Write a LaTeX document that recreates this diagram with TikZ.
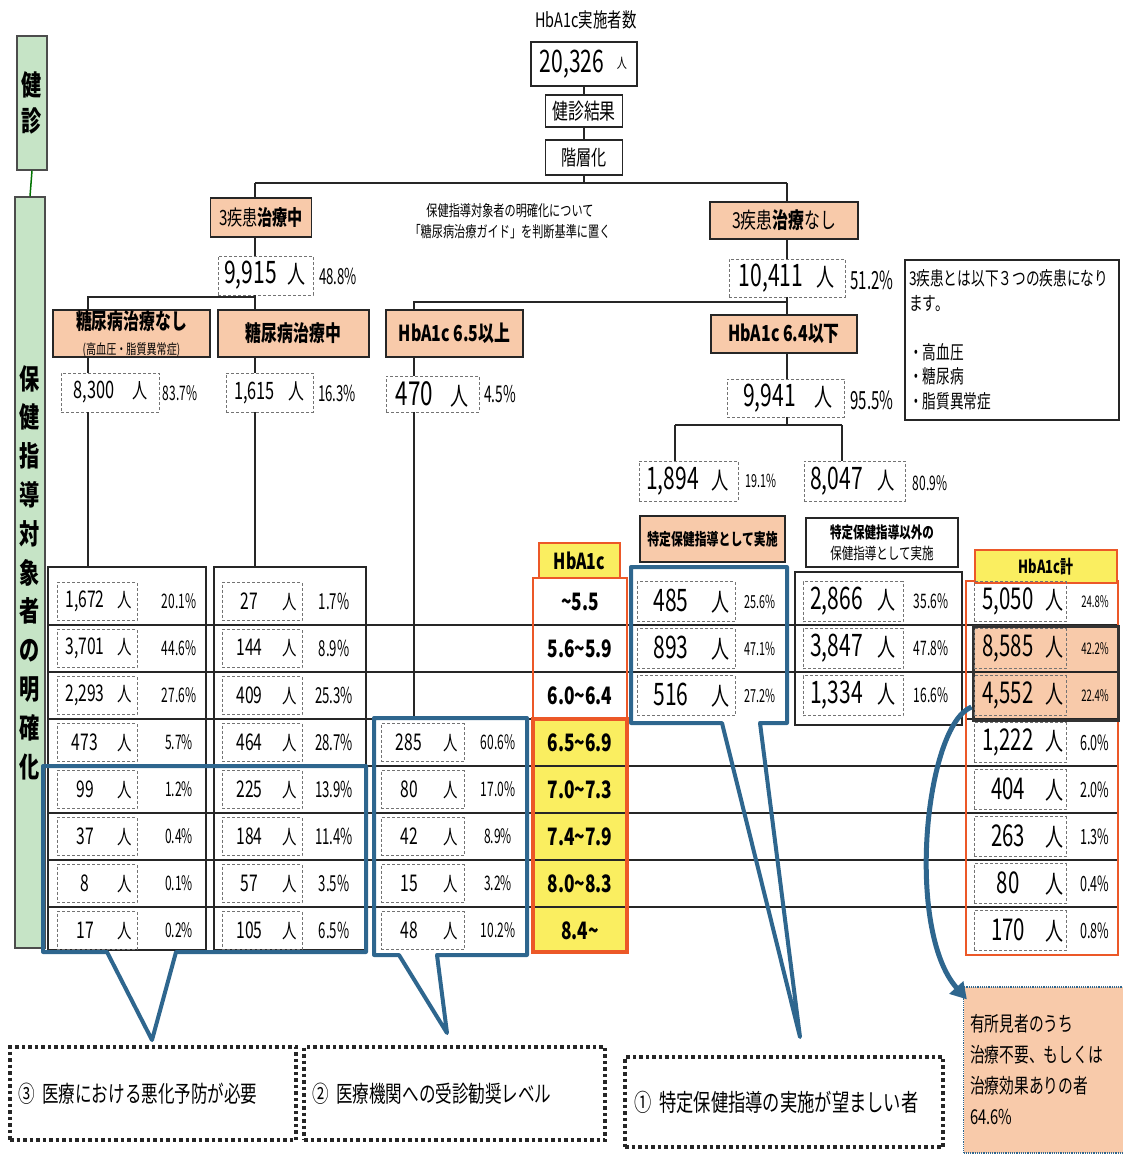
\documentclass[tikz,border=0pt]{standalone}
\usepackage{fontspec}
\setmainfont{Noto Sans CJK JP}[FakeStretch=0.72]
\newfontfamily\nf{Noto Sans CJK JP}[FakeStretch=0.68]
\newfontfamily\pf{Noto Sans CJK JP}[FakeStretch=0.6]
\usetikzlibrary{arrows.meta,positioning,calc}
\definecolor{peach}{RGB}{248,202,170}
\definecolor{hblue}{RGB}{46,102,142}
\definecolor{hyel}{RGB}{250,238,96}
\definecolor{hred}{RGB}{236,88,40}
\definecolor{hgreen}{RGB}{198,228,198}
\newcommand\fz[2]{\fontsize{#1}{#2}\selectfont}
\newcommand\ppl[5]{\makebox[#1]{\nf\fz{#3}{#3}#5}\makebox[#2]{\fz{#4}{#4}人}}

\begin{document}
\begin{tikzpicture}[x=1pt,y=-1pt,
 tl/.style={line width=2.6pt,black!85},
 tn/.style={line width=1.3pt,black!85},
 ob/.style={draw=black!85,line width=1.4pt,fill=peach,inner sep=0pt},
 wb/.style={draw=black!85,line width=1.4pt,fill=white,inner sep=0pt},
 db/.style={draw=black!55,densely dashed,line width=0.8pt,inner sep=0pt,minimum height=38pt},
 pc/.style={inner sep=0pt,font=\pf\fz{20}{22}},
 tb/.style={draw=black!85,line width=2pt,inner sep=0pt},
 bf/.style={draw=hblue,line width=4pt,line join=round},
 hc/.style={draw=hred,line width=2pt,fill=hyel,inner sep=0pt,font=\bfseries\fz{22}{24}},
 cb/.style={draw=black!85,line width=4pt,dash pattern=on 3.5pt off 3pt,fill=white,inner sep=0pt}]
\useasboundingbox (0,0) rectangle (1123,1157);

% side bars
\node[draw=black!70,line width=1.2pt,fill=hgreen,minimum width=30pt,minimum height=134pt,inner sep=0pt,align=center,font=\bfseries\fz{28}{36}] (g1) at (32,103) {健\\診};
\node[draw=black!70,line width=1.2pt,fill=hgreen,minimum width=30pt,minimum height=751pt,inner sep=0pt,align=center,font=\bfseries\fz{28}{38.8}] (g2) at (30,572.5) {保\\健\\指\\導\\対\\象\\者\\の\\明\\確\\化};
\draw[green!45!black,line width=1.5pt] (g1.south) -- (g2.north);

% top of the tree
\node[font=\fz{20}{22}] (ttl) at (586,20) {HbA1c実施者数};
\node[wb,minimum width=106pt,minimum height=44pt] (tot) at (584,64) {\makebox[76pt]{\nf\fz{31}{31}20,326}\makebox[24pt]{\raisebox{4pt}{\fz{14}{14}人}}};
\node[wb,minimum width=77pt,minimum height=32pt,font=\fz{22}{24}] (kk) at (584,111) {健診結果};
\node[wb,minimum width=77pt,minimum height=35pt,font=\fz{21}{24}] (ks) at (584,157.5) {階層化};
\coordinate (j0) at (584,183);
\coordinate (jL) at (255,183);
\coordinate (jR) at (787,183);
\draw[tn] (tot) -- (kk);
\draw[tn] (kk) -- (ks);
\draw[tn] (ks) -- (j0);
\draw[tl] (jL) -- (jR);
\node[font=\fz{15.5}{21},align=center] (gd) at (510,221) {保健指導対象者の明確化について\\「糖尿病治療ガイド」を判断基準に置く};

% 3 diseases treated
\node[ob,minimum width=101pt,minimum height=39pt,font=\fz{21}{24}] (yq) at (261,217.5) {3疾患\textbf{治療中}};
\node[db,minimum width=95pt,minimum height=39pt] (n9915) at (265.5,275.5) {\ppl{62pt}{30pt}{31}{25}{9,915}};
\node[pc,font=\pf\fz{22}{24}] (p9915) at (338,276) {48.8\%};
\node[ob,minimum width=157pt,minimum height=47pt,align=center,font=\fz{22}{25}] (d0) at (131.5,333.5) {{\bfseries 糖尿病治療なし}\\{\fz{14}{15}(高血圧・脂質異常症)}};
\node[ob,minimum width=151pt,minimum height=47pt,font=\bfseries\fz{22}{24}] (d1) at (293.5,333.5) {糖尿病治療中};
\node[db,minimum width=98pt,minimum height=39pt] (n8300) at (110,392.5) {\ppl{60pt}{32pt}{24}{21}{8,300}};
\node[pc] (p8300) at (180,393) {83.7\%};
\node[db,minimum width=87pt,minimum height=39pt] (n1615) at (269.5,392.5) {\ppl{54pt}{30pt}{24}{22}{1,615}};
\node[pc,font=\pf\fz{22}{24}] (p1615) at (337,393) {16.3\%};

% 3 diseases not treated
\node[ob,minimum width=148pt,minimum height=37pt,font=\fz{22}{24}] (nq) at (784,220.5) {3疾患\textbf{治療}なし};
\node[db,minimum width=116pt,minimum height=38pt] (n10411) at (787,278) {\ppl{76pt}{32pt}{31}{25}{10,411}};
\node[pc,font=\pf\fz{25}{27}] (p10411) at (872,280) {51.2\%};
\node[wb,minimum width=214pt,minimum height=160pt,text width=206pt,align=left,font=\fz{19}{24.5}] (nt) at (1012,340) {3疾患とは以下３つの疾患になり\\ます。\\[24.5pt]・高血圧\\・糖尿病\\・脂質異常症};
\node[ob,minimum width=137pt,minimum height=47pt,font=\bfseries\fz{22}{24}] (h65) at (454.5,333.5) {HbA1c 6.5以上};
\node[db,minimum width=93pt,minimum height=36pt] (n470) at (432.5,394) {\ppl{54pt}{36pt}{33}{25}{470}};
\node[pc,font=\pf\fz{23}{25}] (p470) at (500,394) {4.5\%};
\node[ob,minimum width=146pt,minimum height=38pt,font=\bfseries\fz{22}{24}] (h64) at (784,334) {HbA1c 6.4以下};
\node[db,minimum width=117pt,minimum height=38pt] (n9941) at (785.5,398) {\ppl{76pt}{32pt}{31}{25}{9,941}};
\node[pc,font=\pf\fz{25}{27}] (p9941) at (872,400) {95.5\%};
\node[db,minimum width=99pt,minimum height=40pt] (n1894) at (688.5,481) {\ppl{64pt}{32pt}{31}{24}{1,894}};
\node[pc,font=\pf\fz{18}{20}] (p1894) at (761,481) {19.1\%};
\node[db,minimum width=101pt,minimum height=40pt] (n8047) at (854.5,481) {\ppl{64pt}{36pt}{31}{24}{8,047}};
\node[pc] (p8047) at (930,483) {80.9\%};
\node[ob,minimum width=145pt,minimum height=46pt,font=\bfseries\fz{16.5}{18}] (sp) at (712.5,539) {特定保健指導として実施};
\node[wb,minimum width=152pt,minimum height=49pt,align=center,font=\fz{16}{21}] (so) at (882,542.5) {\textbf{特定保健指導以外の}\\保健指導として実施};

% table frames
\node[tb,minimum width=158pt,minimum height=383pt] (t1) at (127,758.5) {};
\node[tb,minimum width=152pt,minimum height=383pt] (t2) at (290,758.5) {};
\node[tb,minimum width=167pt,minimum height=153pt] (t5) at (878.5,648.5) {};
\coordinate (t3n) at (414,718);
\fill[hyel] (533,719) rectangle (627,952);
\fill[peach] (973,626) rectangle (1118,720);
\foreach \k in {1,2,4,5,6,7}
  \draw[tn] (48,{578+47*\k}) -- (1118,{578+47*\k});
\draw[tn] (48,719) -- (627,719);
\draw[tn] (966,719) -- (1118,719);
\draw[hred,line width=1.2pt] (533,578) rectangle (627,719);
\draw[hred,line width=3.5pt] (533,719) rectangle (627,952);
\draw[hred,line width=1.2pt] (966,581) rectangle (1118,955);
\node[draw=black!80,line width=3pt,minimum width=145pt,minimum height=94pt,inner sep=0pt] (hi) at (1045.5,673) {};
\node[hc,minimum width=81pt,minimum height=35pt] (hh) at (579.5,560.5) {HbA1c};
\node[hc,minimum width=142pt,minimum height=33pt,font=\bfseries\fz{18}{20}] (hs) at (1046,566.5) {HbA1c計};

% connectors
\coordinate (j1) at (255,297);
\coordinate (xL) at (88,297);
\coordinate (xR) at (787,302);
\coordinate (x65) at (414,302);
\coordinate (j2) at (787,425);
\coordinate (a2) at (675,425);
\coordinate (b2) at (842,425);
\draw[tl] (jL) -- (yq.north -| jL);
\draw[tl] (yq.south -| jL) -- (n9915.north -| jL);
\draw[tl] (n9915.south -| jL) -- (d1.north -| jL);
\draw[tl] (j1) -- (xL) -- (d0.north -| xL);
\draw[tl] (d0.south -| xL) -- (n8300.north -| xL);
\draw[tn] (n8300.south -| xL) -- (t1.north -| xL);
\draw[tl] (d1.south -| jL) -- (n1615.north -| jL);
\draw[tn] (n1615.south -| jL) -- (t2.north -| jL);
\draw[tl] (jR) -- (nq.north -| jR);
\draw[tl] (nq.south -| jR) -- (n10411.north -| jR);
\draw[tl] (n10411.south -| jR) -- (h64.north -| jR);
\draw[tl] (xR) -- (x65) -- (h65.north -| x65);
\draw[tl] (h65.south -| x65) -- (n470.north -| x65);
\draw[tn] (n470.south -| x65) -- (t3n);
\draw[tl] (h64.south -| jR) -- (n9941.north -| jR);
\draw[tl] (n9941.south -| jR) -- (j2);
\draw[tl] (a2) -- (b2);
\draw[tl] (a2) -- (n1894.north -| a2);
\draw[tl] (b2) -- (n8047.north -| b2);

% HbA1c bands
\foreach \t [count=\i] in {\textasciitilde5.5,5.6\textasciitilde5.9,6.0\textasciitilde6.4,6.5\textasciitilde6.9,7.0\textasciitilde7.3,7.4\textasciitilde7.9,8.0\textasciitilde8.3,8.4\textasciitilde}
  \node[font=\bfseries\fz{24}{26}] (hb\i) at (580,{554.5+47*\i}) {\t};

% counts
\foreach \n/\p [count=\i] in {1{,}672/20.1,3{,}701/44.6,2{,}293/27.6,473/5.7,99/1.2,37/0.4,8/0.1,17/0.2}{
  \node[db,minimum width=80pt] (a\i) at (97,{554.5+47*\i}) {\ppl{56pt}{24pt}{23}{20}{\n}};
  \node[pc] (ap\i) at (179,{554.5+47*\i}) {\p\%};}
\foreach \n/\p [count=\i] in {27/1.7,144/8.9,409/25.3,464/28.7,225/13.9,184/11.4,57/3.5,105/6.5}{
  \node[db,minimum width=80pt] (b\i) at (262,{554.5+47*\i}) {\ppl{55pt}{25pt}{23}{20}{\n}};
  \node[pc,font=\pf\fz{22}{24}] (bp\i) at (334,{554.5+47*\i}) {\p\%};}
\foreach \n/\p [count=\i from 4] in {285/60.6,80/17.0,42/8.9,15/3.2,48/10.2}{
  \node[db,minimum width=83pt] (c\i) at (422.5,{554.5+47*\i}) {\ppl{56pt}{27pt}{23}{20}{\n}};
  \node[pc] (cp\i) at (498,{554.5+47*\i}) {\p\%};}
\foreach \n/\p [count=\i] in {485/25.6,893/47.1,516/27.2}{
  \node[db,minimum width=98pt,minimum height=40pt] (e\i) at (686,{554.5+47*\i}) {\ppl{68pt}{30pt}{31}{25}{\n}};
  \node[pc,font=\pf\fz{18}{20}] (ep\i) at (760,{554.5+47*\i}) {\p\%};}
\foreach \n/\p [count=\i] in {2{,}866/35.6,3{,}847/47.8,1{,}334/16.6}{
  \node[db,minimum width=100pt,minimum height=40pt] (f\i) at (853,{554.5+47*\i}) {\ppl{67pt}{33pt}{31}{25}{\n}};
  \node[pc] (fp\i) at (931,{554.5+47*\i}) {\p\%};}
\foreach \n/\p [count=\i] in {5{,}050/24.8,8{,}585/42.2,4{,}552/22.4,1{,}222/6.0,404/2.0,263/1.3,80/0.4,170/0.8}{
  \node[db,minimum width=92pt,minimum height=40pt] (s\i) at (1020,{554.5+47*\i}) {\ppl{68pt}{24pt}{30}{25}{\n}};
  \node[pc,font=\pf\fz{\ifnum\i<4 16\else 21\fi}{22}] (sp\i) at (1095,{554.5+47*\i}) {\p\%};}

% call-outs
\draw[bf] (43,766) -- (366,766) -- (366,952) -- (176,952) -- (152,1040) -- (107,952) -- (43,952) -- cycle;
\draw[bf] (374,718) -- (527,718) -- (527,955) -- (437,955) -- (447,1033) -- (399,955) -- (374,955) -- cycle;
\draw[bf] (631,567) -- (787,567) -- (787,723) -- (760,723) -- (800,1037) -- (722,723) -- (631,723) -- cycle;
\node[cb,minimum width=286pt,minimum height=93pt,text width=270pt,align=left,font=\fz{23}{26}] (c3) at (153,1093.5) {③ 医療における悪化予防が必要};
\node[cb,minimum width=301pt,minimum height=93pt,text width=285pt,align=left,font=\fz{23}{26}] (c2) at (454.5,1093.5) {② 医療機関への受診勧奨レベル};
\node[cb,minimum width=318pt,minimum height=90pt,text width=300pt,align=left,font=\fz{24}{26}] (c1) at (784,1102) {① 特定保健指導の実施が望ましい者};
\node[draw=hblue,densely dotted,line width=1.2pt,fill=peach,minimum width=161pt,minimum height=166pt,text width=148pt,align=left,inner sep=0pt,font=\fz{20.5}{31}] (fd) at (1044,1070) {有所見者のうち\\治療不要、もしくは\\治療効果ありの者\\64.6\%};
\draw[hblue,line width=5pt,-{Triangle[length=16pt,width=18pt]}] ([yshift=-34pt]hi.west) .. controls (925,725) and (905,930) .. ([xshift=4pt,yshift=-13pt]fd.north west);
\end{tikzpicture}
\end{document}
